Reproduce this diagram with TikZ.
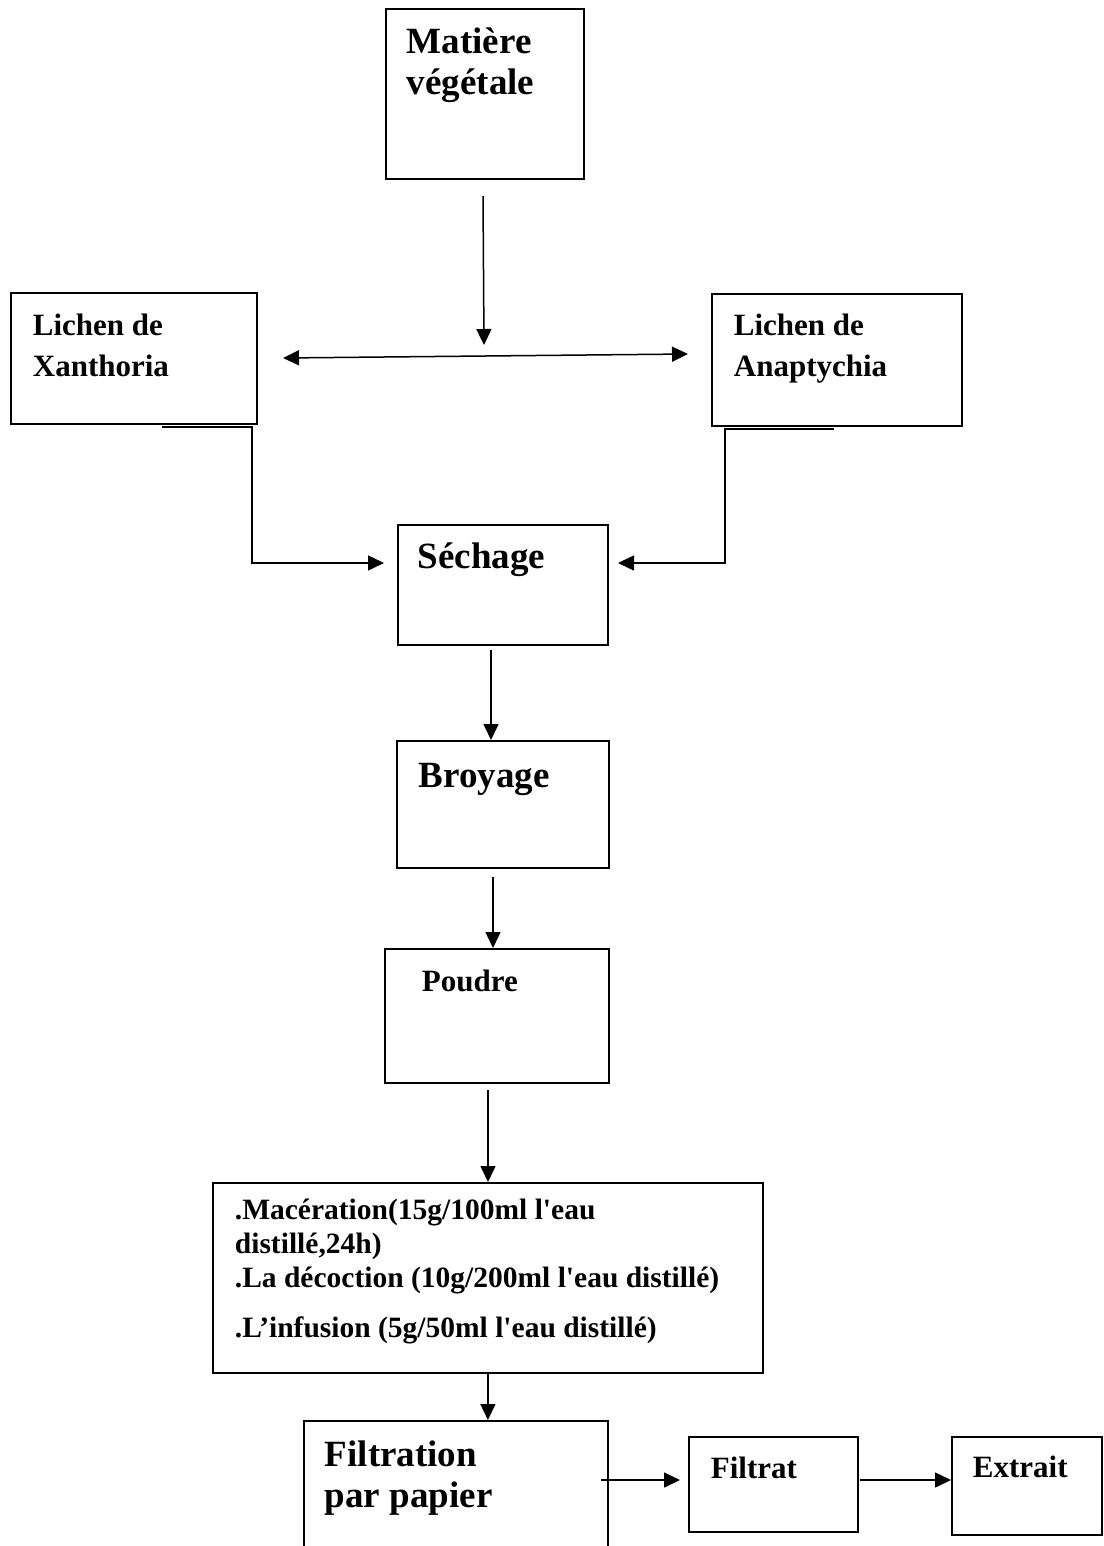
\documentclass[tikz,border=0pt]{standalone}
\usepackage{fontspec}
\setmainfont{Liberation Serif}[Ligatures=TeXOff]
\usepackage{tikz}
\usetikzlibrary{arrows.meta}

\begin{document}
\begin{tikzpicture}[->,>={Triangle[length=16pt,width=15pt]}
	,x=1pt,y=-1pt
	,line width=1.5pt]
  \tikzstyle{box}
  =[draw,-,rectangle,anchor=north west,inner ysep=0pt,align=flush left,line width=1.8pt]
  \tikzstyle{big}=[font=\bfseries\fontsize{37}{41}\selectfont]
  \tikzstyle{small}=[font=\bfseries\fontsize{31}{41}\selectfont]

  \useasboundingbox (0,0) rectangle (1103,1546);

  % boxes, top to bottom
  \node[box,big,text width=156,inner xsep=21,text height=45,text depth=125]
    (mat) at (385,8) {Matière\\végétale};
  \node[box,small,text width=202,inner xsep=22,text height=43,text depth=88]
    (xan) at (10,292) {Lichen de\\Xanthoria};
  \node[box,small,text width=206,inner xsep=22,text height=42,text depth=90]
    (ana) at (711,293) {Lichen de\\Anaptychia};
  \node[box,big,text width=170,inner xsep=20,text height=44,text depth=76]
    (sech) at (397,524) {Séchage};
  \node[box,big,text width=168,inner xsep=22,text height=47,text depth=80]
    (broy) at (396,740) {Broyage};
  \node[box,small,text width=150,inner xsep=37,text height=43,text depth=91]
    (poud) at (384,948) {Poudre};
  \node[box,font=\bfseries\fontsize{29.5}{34}\selectfont,
    text width=506,inner xsep=22,text height=37,text depth=153]
    (mac) at (212,1182) {.Macération(15g/100ml l'eau\\distillé,24h)\\
    .La décoction (10g/200ml l'eau distillé)\\[16pt]
    .L’infusion (5g/50ml l'eau distillé)};
  \node[box,big,text width=262,inner xsep=21,text height=46,text depth=84]
    (filt) at (303,1420) {Filtration\\par papier};
  \node[box,small,text width=125,inner xsep=22,text height=42,text depth=53]
    (filtrat) at (688,1436) {Filtrat};
  \node[box,small,text width=108,inner xsep=21,text height=41,text depth=57]
    (extr) at (951,1436) {Extrait};

  % free ends of the arrows
  \coordinate (m0) at (483,196);
  \coordinate (m1) at (484,345);
  \coordinate (hl) at (283,358);
  \coordinate (hr) at (688,354);
  \coordinate (x0) at (162,427);
  \coordinate (x1) at (384,563);
  \coordinate (a0) at (834,429);
  \coordinate (a1) at (618,563);
  \coordinate (s0) at (491,650);
  \coordinate (b0) at (493,877);
  \coordinate (p0) at (488,1090);
  \coordinate (f0) at (601,1480);
  \coordinate (r0) at (860,1480);

  % arrows
  \path        (m0)  edge (m1);
  \path [<->]  (hl)  edge (hr);
  \draw (x0) -- ++(90,0) |- (x1);
  \draw (a0) -- ++(-109,0) |- (a1);
  \path        (s0)  edge (s0 |- broy.north);
  \path        (b0)  edge (b0 |- poud.north);
  \path        (p0)  edge (p0 |- mac.north);
  \path        (mac.south) edge (mac.south |- filt.north);
  \path [shorten >=8pt] (f0) edge (f0 -| filtrat.west);
  \path        (r0)  edge (r0 -| extr.west);
\end{tikzpicture}
\end{document}
